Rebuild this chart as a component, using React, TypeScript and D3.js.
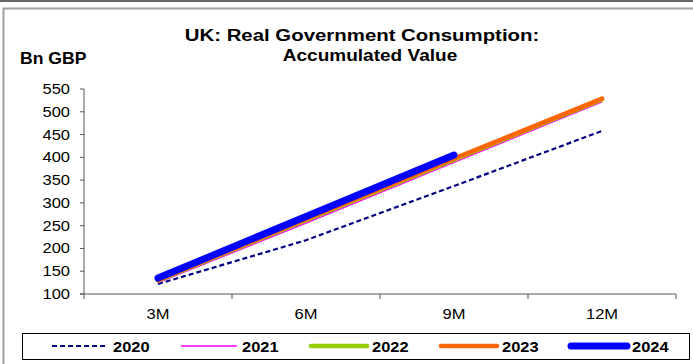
import React from "react";
import * as d3 from "d3";

const categories = ["3M", "6M", "9M", "12M"];
const yTicks = [100, 150, 200, 250, 300, 350, 400, 450, 500, 550];
const s2020 = [122, 218, 337, 458];
const s2021 = [125, 256, 389, 522];
const s2022 = [130, 262, 395, 527];
const s2023 = [131, 264, 397, 529];
const s2024 = [135, 270, 405];

const series = [
  { name: "2020", values: s2020, color: "#000080", width: 2.2, dash: "5,3", cap: "butt" },
  { name: "2021", values: s2021, color: "#FF00FF", width: 1.5, dash: null, cap: "butt" },
  { name: "2022", values: s2022, color: "#99CC00", width: 4.5, dash: null, cap: "round" },
  { name: "2023", values: s2023, color: "#FF6600", width: 4.5, dash: null, cap: "round" },
  { name: "2024", values: s2024, color: "#0000FF", width: 7, dash: null, cap: "round" },
];

const W = 693, H = 364;
const left = 84, right = 676, top = 89, bottom = 294;
const font = "'Liberation Sans', Arial, sans-serif";
const SX = 1.18;

function SText(props: { x: number; y: number; sx?: number; anchor?: string; size: number; bold?: boolean; children: any }) {
  const { x, y, sx = SX, anchor = "start", size, bold, children } = props;
  return (
    <text
      transform={`translate(${x},${y}) scale(${sx},1)`}
      textAnchor={anchor as any}
      fontFamily={font}
      fontWeight={bold ? "bold" : "normal"}
      fontSize={size}
      fill="#000"
    >
      {children}
    </text>
  );
}

export default function App() {
  const x = d3.scaleBand<string>().domain(categories).range([left, right]);
  const y = d3.scaleLinear().domain([100, 550]).range([bottom, top]);
  const line = d3
    .line<number>()
    .x((_, i) => (x(categories[i]) as number) + x.bandwidth() / 2)
    .y((d) => y(d));
  const boundaries = [...categories.map((c) => x(c) as number), right];
  const legendLines = [
    [52, 108],
    [181, 237],
    [311, 367],
    [441, 497],
    [571, 627],
  ];
  return (
    <div style={{ position: "absolute", left: 0, top: 0 }}>
      <svg width={W} height={H} style={{ display: "block", background: "#fff" }}>
        <line x1={0} x2={W} y1={1} y2={1} stroke="#333" strokeWidth={1.5} />
        <path d={`M${W + 5},8.5 H3.5 V${H + 5}`} fill="none" stroke="#a0a0a0" strokeWidth={2} />
        <SText x={362} y={41} anchor="middle" size={17} bold sx={1.2}>
          UK: Real Government Consumption:
        </SText>
        <SText x={370} y={61} anchor="middle" size={17} bold sx={1.12}>
          Accumulated Value
        </SText>
        <SText x={20} y={64} size={16} bold sx={1.1}>
          Bn GBP
        </SText>
        {/* axes */}
        <line x1={left} x2={left} y1={top} y2={bottom} stroke="#555" />
        <line x1={left - 4} x2={right} y1={bottom} y2={bottom} stroke="#555" />
        {yTicks.map((t) => (
          <g key={t}>
            <line x1={left - 4} x2={left} y1={y(t)} y2={y(t)} stroke="#555" />
            <SText x={70} y={y(t) + 5} anchor="end" size={14}>
              {t}
            </SText>
          </g>
        ))}
        {boundaries.map((b, i) => (
          <line key={i} x1={b} x2={b} y1={bottom} y2={bottom + 5} stroke="#555" />
        ))}
        {categories.map((c) => (
          <SText key={c} x={(x(c) as number) + x.bandwidth() / 2} y={318.5} anchor="middle" size={14}>
            {c}
          </SText>
        ))}
        {series.map((s) => (
          <path
            key={s.name}
            d={line(s.values) || ""}
            fill="none"
            stroke={s.color}
            strokeWidth={s.width}
            strokeDasharray={s.dash || undefined}
            strokeLinecap={s.cap as any}
            strokeLinejoin="round"
          />
        ))}
        {/* legend */}
        <rect x={22.5} y={333.5} width={667} height={26} fill="#fff" stroke="#000" strokeWidth={1} />
        {series.map((s, i) => (
          <g key={s.name}>
            <line
              x1={legendLines[i][0]}
              x2={legendLines[i][1]}
              y1={346}
              y2={346}
              stroke={s.color}
              strokeWidth={s.width}
              strokeDasharray={s.dash || undefined}
              strokeLinecap={s.cap as any}
            />
            <SText x={legendLines[i][1] + 5} y={352} size={15.5} bold sx={1.06}>
              {s.name}
            </SText>
          </g>
        ))}
      </svg>
    </div>
  );
}
